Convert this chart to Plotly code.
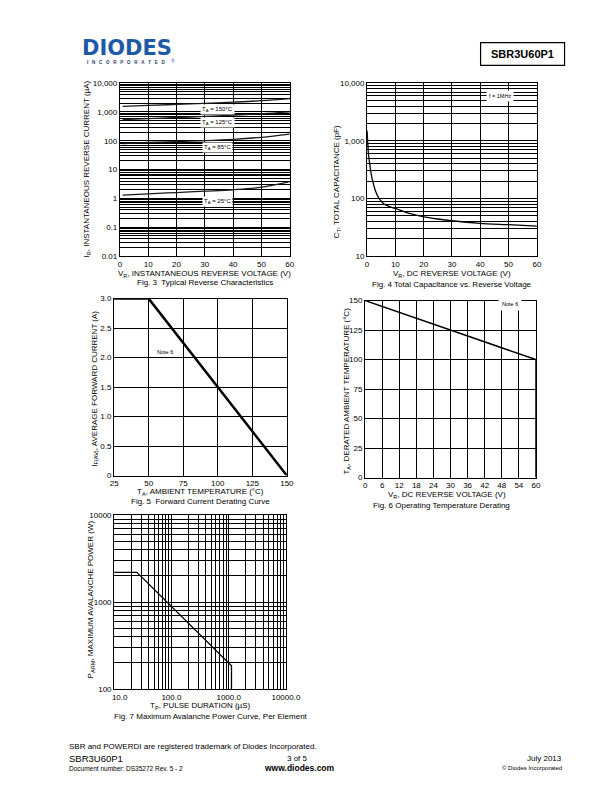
import math
import plotly.graph_objects as go

W, H = 612, 792
FONT = "Liberation Sans, Arial, sans-serif"

# ---------------- data ----------------
# Fig 3 – typical reverse characteristics
f3_v = [1, 10, 20, 30, 40, 50, 60]
f3_ir_150 = [1550, 1680, 1820, 1980, 2180, 2450, 2900]
f3_ir_125 = [540, 590, 640, 700, 770, 860, 1000]
f3_ir_85 = [80, 87, 94, 101, 112, 132, 170]
f3_ir_25 = [1.3, 1.45, 1.6, 1.78, 2.0, 2.45, 3.8]
f3_labels = ["T<sub>A</sub> = 150°C", "T<sub>A</sub> = 125°C", "T<sub>A</sub> = 85°C", "T<sub>A</sub> = 25°C"]
f3_label_y = [1216, 427, 58, 0.78]
f3_label_x = 34.4
f3_ydecades = [0.01, 0.1, 1, 10, 100, 1000, 10000]
f3_ytext = ["0.01", "0.1", "1", "10", "100", "1,000", "10,000"]
f3_xticks = [0, 10, 20, 30, 40, 50, 60]

# Fig 4 – total capacitance
f4_v = [0, 0.5, 1, 1.5, 2, 3, 4, 5, 6, 8, 10, 15, 20, 25, 30, 40, 50, 60]
f4_c = [1500, 600, 380, 260, 200, 135, 105, 90, 80, 72, 67, 55, 48, 44, 41, 37, 35, 33]
f4_ydecades = [10, 100, 1000, 10000]
f4_ytext = ["10", "100", "1,000", "10,000"]
f4_xticks = [0, 10, 20, 30, 40, 50, 60]

# Fig 5 – forward current derating
f5_t = [25, 50, 150]
f5_i = [3.0, 3.0, 0.0]
f5_xticks = [25, 50, 75, 100, 125, 150]
f5_yticks = [0, 0.5, 1.0, 1.5, 2.0, 2.5, 3.0]
f5_ytext = ["0", "0.5", "1.0", "1.5", "2.0", "2.5", "3.0"]

# Fig 6 – operating temperature derating
f6_v = [0, 60, 60]
f6_t = [150, 100, 0]
f6_xticks = [0, 6, 12, 18, 24, 30, 36, 42, 48, 54, 60]
f6_yticks = [0, 25, 50, 75, 100, 125, 150]

# Fig 7 – maximum avalanche power
f7_tp = [10, 25, 1120, 1120]
f7_p = [2200, 2200, 185, 100]
f7_xdecades = [10, 100, 1000, 10000]
f7_xtext = ["\u00a0\u00a0\u00a0\u00a0\u00a010.0", "100.0", "1000.0", "10000.0"]
f7_ydecades = [100, 1000, 10000]
f7_ytext = ["100", "1000", "10000"]


# ---------------- helpers ----------------
def px(x, y):
    return x / W, 1 - y / H


def xdom(a, b):
    return [a / W, b / W]


def ydom(top, bottom):
    return [1 - bottom / H, 1 - top / H]


def log_ticks(decades, labels):
    vals, text = [], []
    for i, d in enumerate(decades):
        vals.append(d)
        text.append(labels[i])
        if i < len(decades) - 1:
            for k in range(2, 10):
                vals.append(k * d)
                text.append("")
    return vals, text


base_axis = dict(
    showline=True, mirror=True, linecolor="black", linewidth=1,
    showgrid=True, gridcolor="black", gridwidth=1, zeroline=False,
    ticks="", tickfont=dict(family=FONT, size=8, color="black"),
    fixedrange=True,
)

fig = go.Figure()

# Fig 3 traces
for ys in [f3_ir_150, f3_ir_125, f3_ir_85, f3_ir_25]:
    fig.add_trace(go.Scatter(x=f3_v, y=ys, mode="lines", line=dict(color="#1a1a1a", width=1.3, shape="spline"),
                             xaxis="x", yaxis="y", showlegend=False, hoverinfo="skip"))
# Fig 4
fig.add_trace(go.Scatter(x=f4_v, y=f4_c, mode="lines", line=dict(color="black", width=1.3, shape="spline", smoothing=0.6),
                         xaxis="x2", yaxis="y2", showlegend=False, hoverinfo="skip"))
# Fig 5
fig.add_trace(go.Scatter(x=f5_t, y=f5_i, mode="lines", line=dict(color="black", width=2.5),
                         xaxis="x3", yaxis="y3", showlegend=False, hoverinfo="skip"))
# Fig 6
fig.add_trace(go.Scatter(x=f6_v, y=f6_t, mode="lines", line=dict(color="black", width=1.5),
                         xaxis="x4", yaxis="y4", showlegend=False, hoverinfo="skip"))
# Fig 7
fig.add_trace(go.Scatter(x=f7_tp, y=f7_p, mode="lines", line=dict(color="black", width=1.3),
                         xaxis="x5", yaxis="y5", showlegend=False, hoverinfo="skip"))

f3_yv, f3_yt = log_ticks(f3_ydecades, f3_ytext)
f4_yv, f4_yt = log_ticks(f4_ydecades, f4_ytext)
f7_xv, f7_xt = log_ticks(f7_xdecades, f7_xtext)
f7_yv, f7_yt = log_ticks(f7_ydecades, f7_ytext)

layout = dict(
    width=W, height=H, margin=dict(l=0, r=0, t=0, b=0),
    paper_bgcolor="white", plot_bgcolor="white", showlegend=False,
    font=dict(family=FONT, size=8, color="black"),
    xaxis=dict(base_axis, domain=xdom(112, 290), range=[0, 60], tickmode="array", tickvals=f3_xticks, anchor="y"),
    yaxis=dict(base_axis, domain=ydom(80, 255), type="log", range=[-2, 4], tickmode="array",
               tickvals=f3_yv, ticktext=f3_yt, anchor="x"),
    xaxis2=dict(base_axis, domain=xdom(371, 549), range=[0, 60], tickmode="array", tickvals=f4_xticks, anchor="y2"),
    yaxis2=dict(base_axis, domain=ydom(80, 255), type="log", range=[1, 4], tickmode="array",
                tickvals=f4_yv, ticktext=f4_yt, anchor="x2"),
    xaxis3=dict(base_axis, domain=xdom(106, 287), range=[25, 150], tickmode="array", tickvals=f5_xticks,
                anchor="y3", gridwidth=1.2, linewidth=1.2),
    yaxis3=dict(base_axis, domain=ydom(298, 477), range=[0, 3], tickmode="array", tickvals=f5_yticks,
                ticktext=f5_ytext, anchor="x3", gridwidth=1.2, linewidth=1.2),
    xaxis4=dict(base_axis, domain=xdom(369, 548), range=[0, 60], tickmode="array", tickvals=f6_xticks,
                anchor="y4", gridwidth=1.2, linewidth=1.2),
    yaxis4=dict(base_axis, domain=ydom(300, 479), range=[0, 150], tickmode="array", tickvals=f6_yticks,
                anchor="x4", gridwidth=1.2, linewidth=1.2),
    xaxis5=dict(base_axis, domain=xdom(106, 286), type="log", range=[1, 4], tickmode="array",
                tickvals=f7_xv, ticktext=f7_xt, anchor="y5"),
    yaxis5=dict(base_axis, domain=ydom(517, 693), type="log", range=[2, 4], tickmode="array",
                tickvals=f7_yv, ticktext=f7_yt, anchor="x5"),
)
fig.update_layout(**layout)

ann = []


def text_at(x, y, text, size=8, anchor="center", angle=0, bold=False, color="black", family=FONT, **kw):
    xp, yp = px(x, y)
    t = f"<b>{text}</b>" if bold else text
    ann.append(dict(x=xp, y=yp, xref="paper", yref="paper", text=t, showarrow=False,
                    xanchor=anchor, yanchor="middle", textangle=angle,
                    font=dict(family=family, size=size, color=color), **kw))


# Fig 3 curve labels
for lab, yv in zip(f3_labels, f3_label_y):
    ann.append(dict(x=f3_label_x, y=math.log10(yv), xref="x", yref="y", text=lab, showarrow=False,
                    bgcolor="white", borderpad=1, font=dict(family=FONT, size=6, color="black")))
# Fig 4 label
ann.append(dict(x=47, y=math.log10(6000), xref="x2", yref="y2", text="f = 1MHz", showarrow=False,
                bgcolor="white", borderpad=2, font=dict(family=FONT, size=5.5, color="black")))
# Fig 5 note
ann.append(dict(x=61.5, y=2.1, xref="x3", yref="y3", text="Note 6", showarrow=False,
                font=dict(family=FONT, size=5.5, color="black")))
# Fig 6 note
ann.append(dict(x=51, y=147, xref="x4", yref="y4", text="Note 6", showarrow=False,
                bgcolor="white", borderpad=3, font=dict(family=FONT, size=5.5, color="black")))

# axis titles & captions
text_at(78, 167, "I<sub>R</sub>, INSTANTANEOUS REVERSE CURRENT (µA)", angle=-90)
text_at(201, 273, "V<sub>R</sub>, INSTANTANEOUS REVERSE VOLTAGE (V)")
text_at(201, 282, "Fig. 3  Typical Reverse Characteristics")

text_at(340, 180, "C<sub>T</sub>, TOTAL CAPACITANCE (pF)", angle=-90)
text_at(460, 273, "V<sub>R</sub>, DC REVERSE VOLTAGE (V)")
text_at(460, 284, "Fig. 4 Total Capacitance vs. Reverse Voltage")

text_at(85, 389, "I<sub>F(AV)</sub>, AVERAGE FORWARD CURRENT (A)", angle=-90)
text_at(197, 493.5, "T<sub>A</sub>, AMBIENT TEMPERATURE (°C)")
text_at(197, 503, "Fig. 5  Forward Current Derating Curve")

text_at(350, 391, "T<sub>A</sub>, DERATED AMBIENT TEMPERATURE (°C)", angle=-90)
text_at(455, 497, "V<sub>R</sub>, DC REVERSE VOLTAGE (V)")
text_at(449, 507.5, "Fig. 6 Operating Temperature Derating")

text_at(82, 602, "P<sub>ARM</sub>, MAXIMUM AVALANCHE POWER (W)", angle=-90)
text_at(196, 710.5, "T<sub>P</sub>, PULSE DURATION (µS)")
text_at(208, 720.5, "Fig. 7 Maximum Avalanche Power Curve, Per Element")

# header
text_at(119, 45, "DIODES", size=21, bold=True, color="#1c5aa6", family="DejaVu Sans, sans-serif")
text_at(119, 59, "\u00a0\u00a0\u00a0".join("INCORPORATED"), size=4.5, bold=True, color="#23386b")
text_at(168, 57.5, "®", size=5, color="#1c5aa6")
text_at(534, 51, "SBR3U60P1", size=11, bold=True)

# footer
text_at(57, 751, "SBR and POWERDI are registered trademark of Diodes Incorporated.", size=8, anchor="left")
text_at(57, 763, "SBR3U60P1", size=9.5, anchor="left")
text_at(57, 773, "Document number: DS35272 Rev. 5 - 2", size=6.5, anchor="left")
text_at(298, 763, "3 of 5", size=8)
text_at(300, 773, "www.diodes.com", size=8.5, bold=True)
text_at(577, 763, "July 2013", size=8, anchor="right")
text_at(577, 773, "© Diodes Incorporated", size=6, anchor="right")

fig.update_layout(annotations=ann)

x0, y1 = px(490, 39)
x1, y0 = px(578, 62)
fig.add_shape(type="rect", xref="paper", yref="paper", x0=x0, x1=x1, y0=y0, y1=y1,
              line=dict(color="black", width=1.2))

fig.write_html("out.html")
